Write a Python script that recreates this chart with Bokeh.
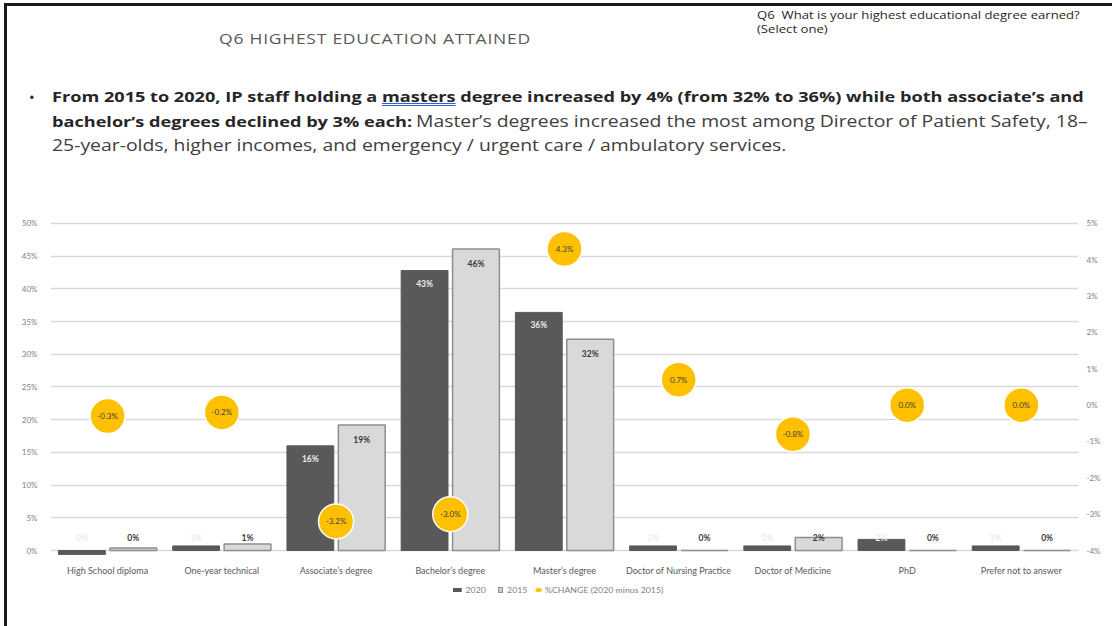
from bokeh.plotting import figure
from bokeh.models import (Range1d, LinearAxis, FixedTicker, ColumnDataSource, Div)
from bokeh.layouts import column
from bokeh.core.properties import value
from bokeh.transform import dodge
from bokeh.embed import file_html
from bokeh.resources import INLINE

# ---------------- data ----------------
categories = ["High School diploma", "One-year technical", "Associate’s degree",
              "Bachelor’s degree", "Master’s degree", "Doctor of Nursing Practice",
              "Doctor of Medicine", "PhD", "Prefer not to answer"]
share_2020 = [-0.6, 0.7, 16.0, 42.8, 36.4, 0.7, 0.7, 1.7, 0.7]
share_2015 = [0.4, 1.0, 19.2, 46.1, 32.3, 0.0, 2.0, 0.0, 0.0]
labels_2020 = ["0%", "1%", "16%", "43%", "36%", "1%", "1%", "2%", "1%"]
labels_2015 = ["0%", "1%", "19%", "46%", "32%", "0%", "2%", "0%", "0%"]
change = [-0.3, -0.2, -3.2, -3.0, 4.3, 0.7, -0.8, 0.0, 0.0]
left_ticks = [0, 5, 10, 15, 20, 25, 30, 35, 40, 45, 50]
left_tick_labels = ["0%", "5%", "10%", "15%", "20%", "25%", "30%", "35%", "40%", "45%", "50%"]
right_ticks = [-4, -3, -2, -1, 0, 1, 2, 3, 4, 5]
right_tick_labels = ["-4%", "-3%", "-2%", "-1%", "0%", "1%", "2%", "3%", "4%", "5%"]
legend_labels = ["2020", "2015", "%CHANGE (2020 minus 2015)"]

title_text = "Q6 HIGHEST EDUCATION ATTAINED"
question_lines = ["Q6&nbsp; What is your highest educational degree earned?", "(Select one)"]

HEADER_H = 200
FIG_H = 378
LEG_H = 626 - HEADER_H - FIG_H
C20, C15, C15_LINE, CCHG = "#595959", "#d9d9d9", "#8f8f8f", "#FFC000"
STRETCH = "transform:scaleX(1.25);transform-origin:left center;"

# ---------------- header ----------------
header_html = f"""
<div style="position:relative;width:1112px;height:{HEADER_H}px;background:white;overflow:hidden;">
  <div style="position:absolute;left:4px;top:3px;width:1108px;height:3px;background:#1a1a1a;"></div>
  <div style="position:absolute;left:4px;top:3px;width:3px;height:{HEADER_H}px;background:#1a1a1a;"></div>
  <div style="position:absolute;left:0;top:29px;width:750px;text-align:center;
       font-family:'Open Sans';font-size:14px;letter-spacing:0.6px;color:#595959;
       white-space:nowrap;line-height:20px;transform:scaleX(1.25);transform-origin:375px center;">{title_text}</div>
  <div style="position:absolute;left:757px;top:9px;font-family:'Open Sans';font-size:10.5px;
       line-height:13.5px;color:#262626;white-space:nowrap;{STRETCH}">{question_lines[0]}<br>{question_lines[1]}</div>
  <div style="position:absolute;left:29px;top:85px;font-family:'Open Sans';font-size:15px;
       line-height:24px;color:#262626;">&bull;</div>
  <div style="position:absolute;left:52px;top:85px;font-family:'Open Sans';line-height:23.5px;
       white-space:nowrap;{STRETCH}">
    <span style="font-weight:bold;font-size:14.5px;color:#262626;">From 2015 to 2020, IP staff holding a
    <span style="text-decoration:underline double #2f5fd0;">masters</span> degree increased by 4% (from 32% to 36%) while both associate’s and</span><br>
    <span style="font-weight:bold;font-size:14.5px;color:#262626;">bachelor’s degrees declined by 3% each:</span>
    <span style="font-size:15.5px;color:#404040;">Master’s degrees increased the most among Director of Patient Safety, 18–</span><br>
    <span style="font-size:15.5px;color:#404040;">25-year-olds, higher incomes, and emergency / urgent care / ambulatory services.</span>
  </div>
</div>
"""
header = Div(text=header_html, width=1112, height=HEADER_H, margin=0)

# ---------------- figure ----------------
p = figure(width=1105, height=FIG_H, x_range=categories,
           y_range=Range1d(-1.07, 51.98), output_backend="svg", toolbar_location=None,
           min_border_left=43, min_border_right=34, min_border_top=10,
           min_border_bottom=20, margin=(0, 0, 0, 4))
p.styles = {"border-left": "3px solid #1a1a1a"}
p.extra_y_ranges = {"pct": Range1d(-4.1926, 5.3564)}
p.outline_line_color = None
p.background_fill_color = "white"
p.border_fill_color = "white"
p.xgrid.grid_line_color = None
p.ygrid.ticker = FixedTicker(ticks=left_ticks)
p.ygrid.grid_line_color = "#d9d9d9"
p.ygrid.grid_line_width = 1.5

ax = p.yaxis[0]
ax.ticker = FixedTicker(ticks=left_ticks)
ax.major_label_overrides = dict(zip(left_ticks, left_tick_labels))
ax.axis_line_color = None
ax.major_tick_line_color = None
ax.minor_tick_line_color = None
ax.major_label_text_font_size = "8px"
ax.major_label_text_color = "#7f7f7f"
ax.major_label_text_font = "Lato"
ax.major_label_standoff = 7

rax = LinearAxis(y_range_name="pct", ticker=FixedTicker(ticks=right_ticks))
rax.major_label_overrides = dict(zip(right_ticks, right_tick_labels))
rax.axis_line_color = None
rax.major_tick_line_color = None
rax.minor_tick_line_color = None
rax.major_label_text_font_size = "8px"
rax.major_label_text_color = "#7f7f7f"
rax.major_label_text_font = "Lato"
rax.major_label_standoff = 2
p.add_layout(rax, "right")

xax = p.xaxis[0]
xax.axis_line_color = None
xax.major_tick_line_color = None
xax.major_label_text_font_size = "9px"
xax.major_label_text_color = "#595959"
xax.major_label_text_font = "Lato"
xax.major_label_standoff = 1

src = ColumnDataSource(dict(
    cat=categories, v20=share_2020, v15=share_2015, l20=labels_2020, l15=labels_2015,
    y20=[max(v - 2.0, 1.9) for v in share_2020],
    y15=[max(v - 2.3, 1.9) for v in share_2015],
    chg=change, lchg=[f"{c:.1f}%" for c in change]))

p.vbar(x=dodge("cat", -0.225, range=p.x_range), top="v20", bottom=0, width=0.41,
       source=src, fill_color=C20, line_color=C20, line_width=1)
p.vbar(x=dodge("cat", 0.225, range=p.x_range), top="v15", bottom=0, width=0.41,
       source=src, fill_color=C15, line_color=C15_LINE, line_width=1.5)

p.text(x=dodge("cat", -0.225, range=p.x_range), y="y20", text="l20", source=src,
       text_align="center", text_baseline="middle", text_font_size="8.5px",
       text_font=value("Lato"), text_font_style="bold", text_color="#ececec")
p.text(x=dodge("cat", 0.225, range=p.x_range), y="y15", text="l15", source=src,
       text_align="center", text_baseline="middle", text_font_size="8.5px",
       text_font=value("Lato"), text_font_style="bold", text_color="#3a3a3a")

p.scatter(x="cat", y="chg", y_range_name="pct", source=src, size=35,
          fill_color=CCHG, line_color="white", line_width=1.5)
p.text(x="cat", y="chg", y_range_name="pct", text="lchg", source=src,
       text_align="center", text_baseline="middle", text_font_size="8px",
       text_font=value("Lato"), text_color="#404040")

# ---------------- legend (below the chart) ----------------
legend_html = f"""
<div style="position:relative;width:1112px;height:{LEG_H}px;background:white;overflow:hidden;">
  <div style="position:absolute;left:4px;top:0;width:3px;height:{LEG_H}px;background:#1a1a1a;"></div>
  <div style="position:absolute;left:453px;top:7px;white-space:nowrap;font-family:'Lato';
       font-size:7px;color:#7f7f7f;line-height:10px;display:flex;align-items:center;{STRETCH}">
    <span style="display:inline-block;width:7px;height:4px;background:{C20};margin-right:3px;"></span>{legend_labels[0]}
    <span style="display:inline-block;width:4px;height:6px;background:{C15};border:1px solid {C15_LINE};margin:0 3px 0 10px;"></span>{legend_labels[1]}
    <span style="display:inline-block;width:5px;height:4px;border-radius:50%;background:{CCHG};margin:0 3px 0 6px;"></span>{legend_labels[2]}
  </div>
</div>
"""
legend_div = Div(text=legend_html, width=1112, height=LEG_H, margin=0)

layout = column(header, p, legend_div, spacing=0)

open("out.html", "w").write(file_html(layout, INLINE))
